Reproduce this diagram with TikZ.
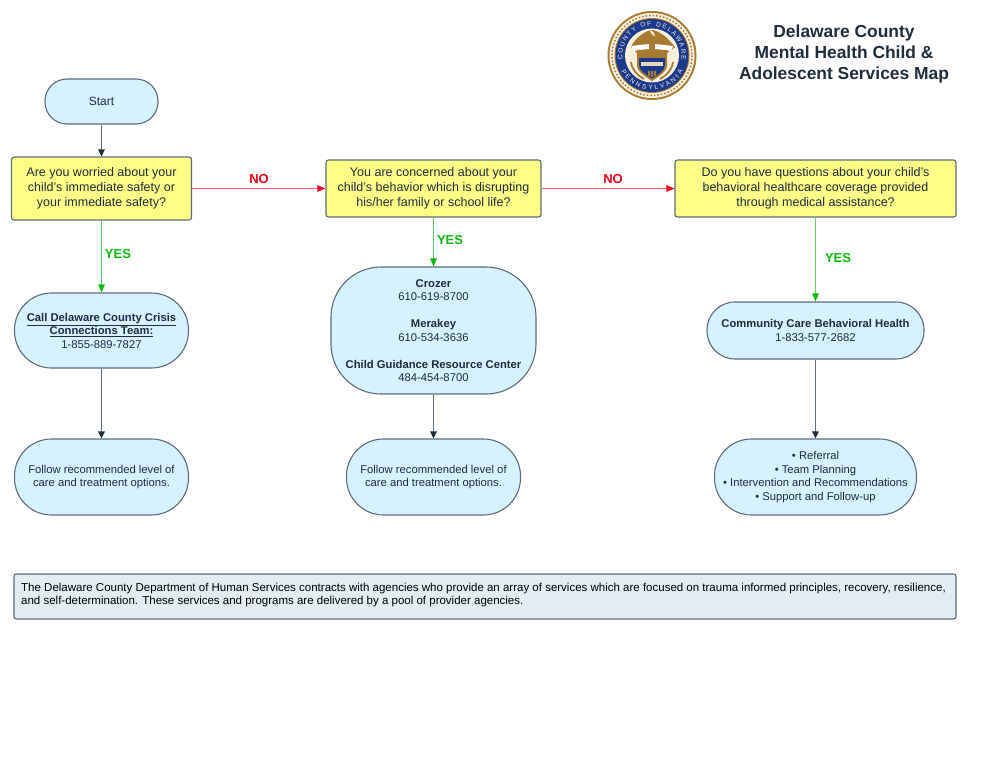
\documentclass[tikz,border=0pt]{standalone}
\usepackage{fontspec}
\setmainfont{Liberation Sans}
\usetikzlibrary{arrows.meta,decorations.text}
\definecolor{inkdark}{HTML}{1F2D3D}
\definecolor{linegray}{HTML}{5E6B7B}
\definecolor{paleblue}{HTML}{D6F1FF}
\definecolor{paleyellow}{HTML}{FFFF88}
\definecolor{paletint}{HTML}{E1EDF1}
\definecolor{yesgreen}{HTML}{0DB80D}
\definecolor{nored}{HTML}{F5001E}
\definecolor{sealgold}{HTML}{A87B32}
\definecolor{sealblue}{HTML}{1C3A8C}
\definecolor{sealcream}{HTML}{F6EFDC}
\tikzset{
  box/.style={draw=linegray,line width=1.1pt,align=center,inner sep=0pt,text=inkdark,font=\fontsize{11.25}{13.5}\selectfont},
  pill/.style={box,fill=paleblue},
  question/.style={box,fill=paleyellow,rounded corners=2.5pt,font=\fontsize{12.5}{15}\selectfont},
  tag/.style={font=\fontsize{13}{15}\selectfont\bfseries,inner sep=0pt},
  down/.style={draw=linegray,line width=1.2pt,-{Triangle[length=7pt,width=6.5pt,color=inkdark]}},
  yes/.style={draw=yesgreen!65,line width=1.1pt,-{Triangle[length=8pt,width=6.5pt,color=yesgreen]}},
  no/.style={draw=nored!65,line width=1.1pt,-{Triangle[length=8pt,width=6.5pt,color=nored]}},
}
\begin{document}
\begin{tikzpicture}[x=1pt,y=-1pt]
    \useasboundingbox (0,0) rectangle (990,765);

    % seal
    \fill[sealgold] (652,55.5) circle (44.5);
    \fill[sealcream] (652,55.5) circle (42.5);
    \draw[sealgold,line width=1.5pt,dotted] (652,55.5) circle (40);
    \fill[sealgold] (652,55.5) circle (37.5);
    \fill[sealblue] (652,55.5) circle (36.5);
    \fill[sealcream] (652,55.5) circle (27);
    \path[postaction={decorate,decoration={text along path,text align={fit to path},
        text={|\fontsize{6.5}{7}\selectfont\color{sealcream}|COUNTY OF DELAWARE}}}]
        (652,55.5) ++(172:29.5) arc[start angle=172,end angle=368,radius=29.5];
    \path[postaction={decorate,decoration={text along path,text align={fit to path},
        text={|\fontsize{6.5}{7}\selectfont\color{sealcream}|PENNSYLVANIA}}}]
        (652,55.5) ++(153:34.5) arc[start angle=153,end angle=27,radius=34.5];
    \fill[sealgold] (630.5,47) .. controls (636,38) and (644,31) .. (652,30) .. controls (660,31) and (668,38) .. (675,47) -- (667,53) -- (637,53) -- cycle;
    \fill[sealcream] (650,30) .. controls (650,33) and (653,36) .. (655,36) .. controls (655,33) and (653,31) .. (650,30) -- cycle;
    \fill[white] (631,46) -- (649,44) -- (649,49) -- (633,51) -- cycle (673,46) -- (655,44) -- (655,49) -- (671,51) -- cycle;
    \fill[sealgold] (637,50) -- (667,50) -- (667,65) .. controls (667,72) and (658,77) .. (652,81) .. controls (646,77) and (637,72) .. (637,65) -- cycle;
    \fill[sealblue] (639,58) -- (665,58) -- (665,65) .. controls (665,71) and (657,75) .. (652,78.5) .. controls (647,75) and (639,71) .. (639,65) -- cycle;
    \fill[sealcream!80!sealgold] (641,62) rectangle (663,66);
    \fill[sealgold] (648,71) rectangle (650,76) (651,71) rectangle (653,77) (654,71) rectangle (656,76);
    \draw[sealgold,line width=1.8pt] (631,62) .. controls (632,70) and (637,75) .. (644,79);
    \draw[sealgold,line width=1.8pt] (673,62) .. controls (672,70) and (667,75) .. (660,79);

    % title
    \node[text=inkdark,align=center,inner sep=0pt,font=\fontsize{17.4}{21}\selectfont\bfseries] (Title) at (844,54)
        {Delaware County\\Mental Health Child \&\\Adolescent Services Map};

    % left column
    \node[pill,rounded corners=22pt,minimum width=113pt,minimum height=45pt,font=\fontsize{12}{13.5}\selectfont] (Start) at (101.5,101.5) {\raisebox{1pt}{Start}};
    \node[question,minimum width=180pt,minimum height=63pt] (Q1) at (101.5,188.5) {Are you worried about your\\child's immediate safety or\\your immediate safety?};
    \node[pill,rounded corners=37pt,minimum width=174pt,minimum height=75pt] (A1) at (101.5,330.5) {\textbf{\underline{Call Delaware County Crisis}}\\\textbf{\underline{Connections Team:}}\\1-855-889-7827};
    \node[pill,rounded corners=37pt,minimum width=174pt,minimum height=76pt] (F1) at (101.5,477) {Follow recommended level of\\care and treatment options.};

    % middle column
    \node[question,minimum width=215pt,minimum height=57pt] (Q2) at (433.5,188.5) {You are concerned about your\\child's behavior which is disrupting\\his/her family or school life?};
    \node[pill,rounded corners=50pt,minimum width=205pt,minimum height=127pt] (A2) at (433.5,330.5) {\textbf{Crozer}\\610-619-8700\\[13.5pt]\textbf{Merakey}\\610-534-3636\\[13.5pt]\textbf{Child Guidance Resource Center}\\484-454-8700};
    \node[pill,rounded corners=37pt,minimum width=174pt,minimum height=76pt] (F2) at (433.5,477) {Follow recommended level of\\care and treatment options.};

    % right column
    \node[question,minimum width=281pt,minimum height=57pt] (Q3) at (815.5,188.5) {Do you have questions about your child's\\behavioral healthcare coverage provided\\through medical assistance?};
    \node[pill,rounded corners=28pt,minimum width=217pt,minimum height=57pt] (A3) at (815.5,330.5) {\textbf{Community Care Behavioral Health}\\1-833-577-2682};
    \node[pill,rounded corners=37pt,minimum width=202pt,minimum height=76pt] (F3) at (815.5,477) {• Referral\\• Team Planning\\• Intervention and Recommendations\\• Support and Follow-up};

    % note
    \node[box,fill=paletint,rounded corners=2.5pt,minimum width=942pt,minimum height=45pt] (Note) at (485,596.5) {};
    \node[anchor=north west,inner sep=0pt,align=left,text=black,font=\fontsize{11.5}{13}\selectfont] (NoteText) at (21,582.5) {The Delaware County Department of Human Services contracts with agencies who provide an array of services which are focused on trauma informed principles, recovery, resilience,\\and self-determination. These services and programs are delivered by a pool of provider agencies.};

    % labels
    \node[tag,text=nored] (No1) at (259,179) {NO};
    \node[tag,text=nored] (No2) at (613,179) {NO};
    \node[tag,text=yesgreen] (Yes1) at (118,254) {YES};
    \node[tag,text=yesgreen] (Yes2) at (450,240.5) {YES};
    \node[tag,text=yesgreen] (Yes3) at (838,258) {YES};

    \path (Start) edge[down] (Q1);
    \path (Q1) edge[yes] (A1);
    \path (A1) edge[down] (F1);
    \path (Q1) edge[no] (Q2);
    \path (Q2) edge[yes] (A2);
    \path (A2) edge[down] (F2);
    \path (Q2) edge[no] (Q3);
    \path (Q3) edge[yes] (A3);
    \path (A3) edge[down] (F3);

  \end{tikzpicture}
\end{document}
